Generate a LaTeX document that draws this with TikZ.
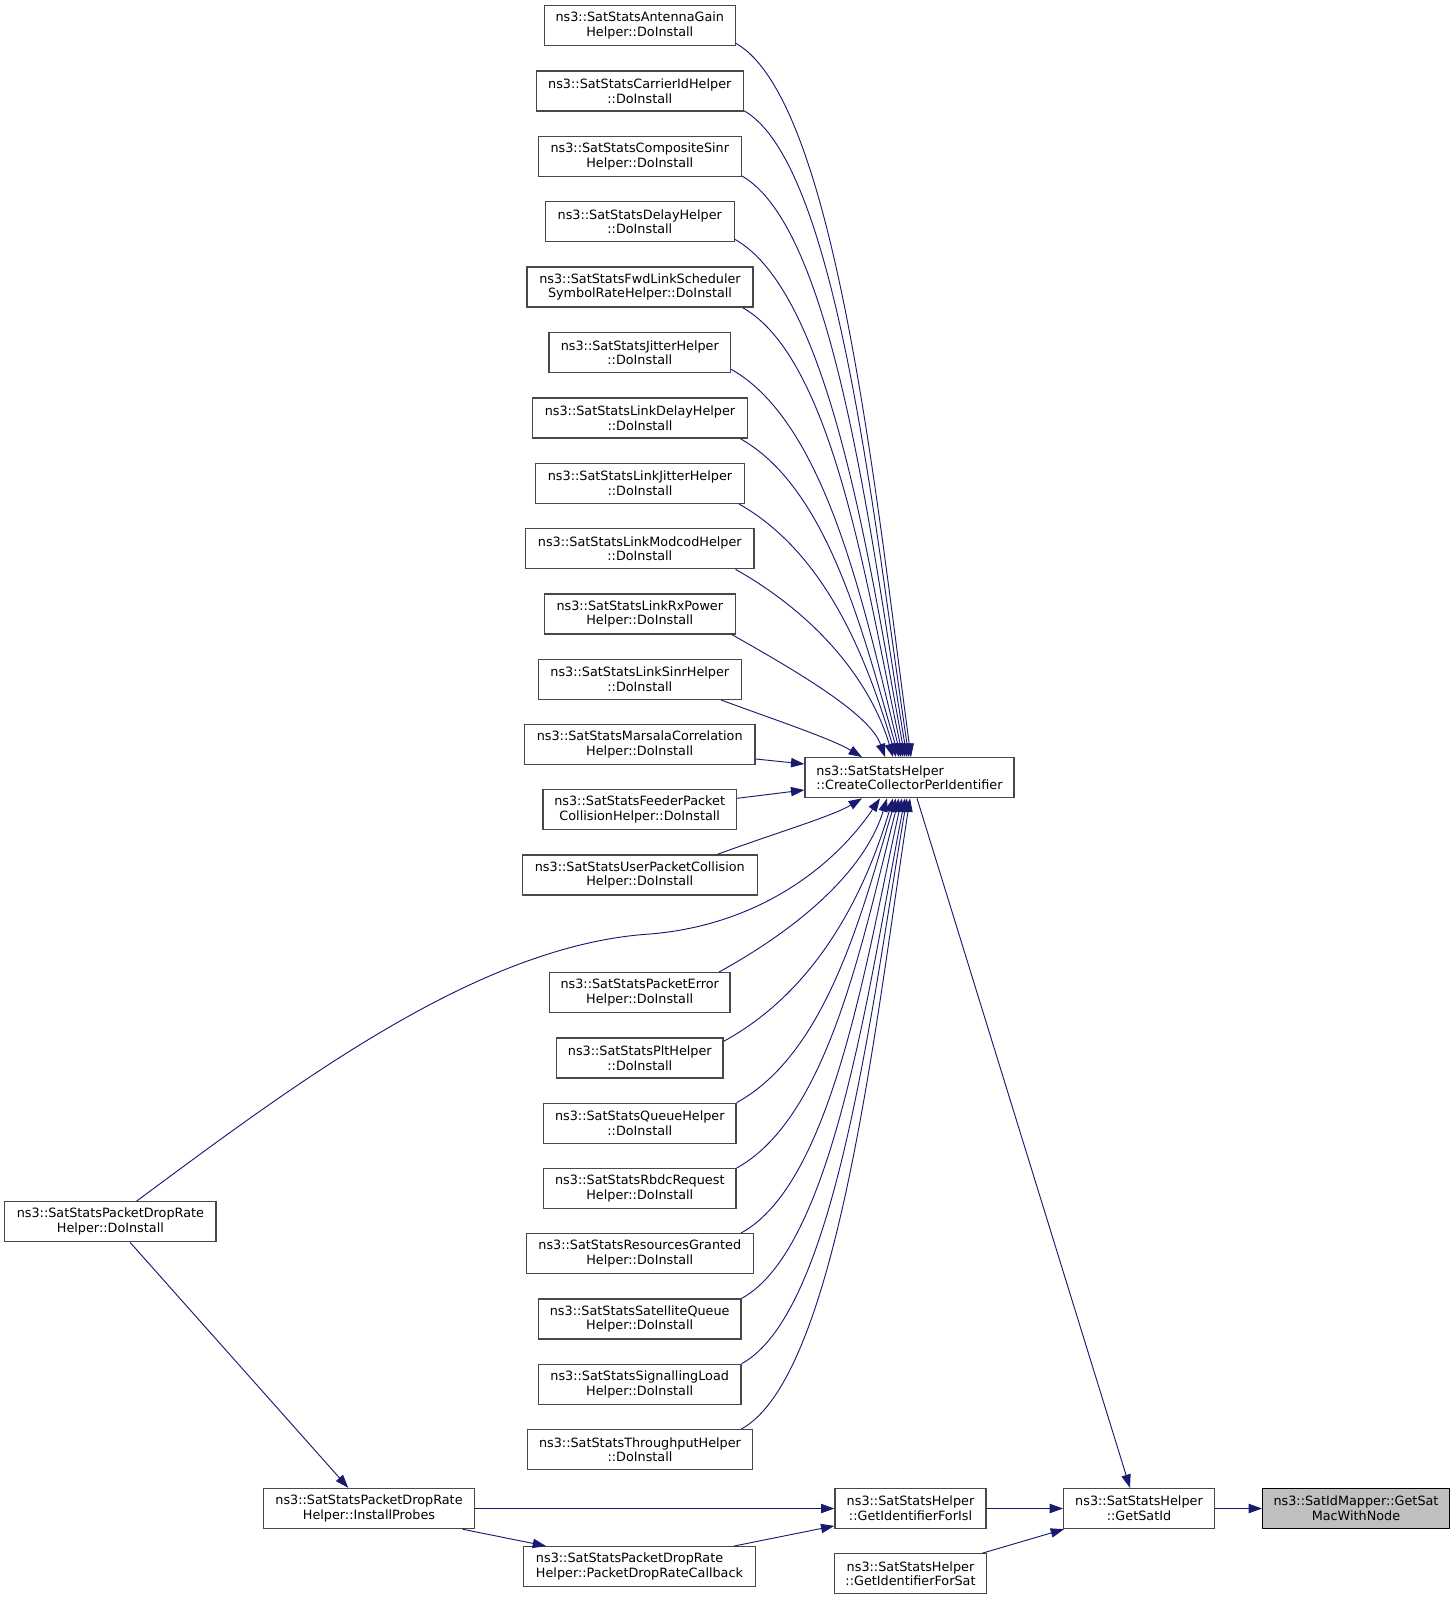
\documentclass[tikz,border=0pt]{standalone}
\usepackage{fontspec}
\setmainfont{DejaVu Sans}
\usetikzlibrary{arrows.meta,calc}
\definecolor{edgec}{HTML}{191970}
\definecolor{bordc}{HTML}{484848}
\definecolor{rootc}{HTML}{BFBFBF}
\begin{document}
\begin{tikzpicture}[x=0.75pt,y=-0.75pt,
  box/.style={draw=bordc, line width=1pt, fill=white, rectangle, inner sep=0pt,
    minimum height=30pt, align=center, font=\fontsize{9.6}{11}\selectfont},
  lbox/.style={box, align=left},
  bw/.style={minimum width=#1*0.75pt},
  root/.style={box, draw=black, fill=rootc},
  cn/.style={draw=edgec, line width=0.7pt, -{Triangle[length=10pt,width=7pt]}}]
\useasboundingbox (0,0) rectangle (1455,1600);

% left column
\node[box,bw=191]   (ant) at (639.8,25.7)  {ns3::SatStatsAntennaGain\\Helper::DoInstall};
\node[box,bw=207]   (car) at (639.8,91)    {ns3::SatStatsCarrierIdHelper\\::DoInstall};
\node[box,bw=203]   (com) at (639.8,156.3) {ns3::SatStatsCompositeSinr\\Helper::DoInstall};
\node[box,bw=189]   (del) at (639.8,221.7) {ns3::SatStatsDelayHelper\\::DoInstall};
\node[box,bw=226]   (fwd) at (640,287)     {ns3::SatStatsFwdLinkScheduler\\SymbolRateHelper::DoInstall};
\node[box,bw=181.7] (jit) at (639.8,352.7) {ns3::SatStatsJitterHelper\\::DoInstall};
\node[box,bw=215.4] (ldl) at (640,418)     {ns3::SatStatsLinkDelayHelper\\::DoInstall};
\node[box,bw=208.6] (ljt) at (640,483.3)   {ns3::SatStatsLinkJitterHelper\\::DoInstall};
\node[box,bw=228.3] (lmc) at (639.8,548.7) {ns3::SatStatsLinkModcodHelper\\::DoInstall};
\node[box,bw=191]   (lrx) at (639.8,614)   {ns3::SatStatsLinkRxPower\\Helper::DoInstall};
\node[box,bw=203]   (lsn) at (639.8,679.3) {ns3::SatStatsLinkSinrHelper\\::DoInstall};
\node[box,bw=230.7] (mar) at (639.7,744.3) {ns3::SatStatsMarsalaCorrelation\\Helper::DoInstall};
\node[box,bw=193.3] (fee) at (639.7,809.7) {ns3::SatStatsFeederPacket\\CollisionHelper::DoInstall};
\node[box,bw=235]   (usr) at (639.8,875)   {ns3::SatStatsUserPacketCollision\\Helper::DoInstall};
\node[box,bw=180.7] (per) at (639.7,992.7) {ns3::SatStatsPacketError\\Helper::DoInstall};
\node[box,bw=166.3] (plt) at (639.8,1058)  {ns3::SatStatsPltHelper\\::DoInstall};
\node[box,bw=192.3] (que) at (639.8,1123.3) {ns3::SatStatsQueueHelper\\::DoInstall};
\node[box,bw=192.3] (rbd) at (639.8,1188.7) {ns3::SatStatsRbdcRequest\\Helper::DoInstall};
\node[box,bw=227]   (res) at (639.8,1253.7) {ns3::SatStatsResourcesGranted\\Helper::DoInstall};
\node[box,bw=202.7] (saq) at (639.7,1319)  {ns3::SatStatsSatelliteQueue\\Helper::DoInstall};
\node[box,bw=202.7] (sig) at (639.7,1384.3) {ns3::SatStatsSignallingLoad\\Helper::DoInstall};
\node[box,bw=224.6] (thr) at (640,1449.7)  {ns3::SatStatsThroughputHelper\\::DoInstall};
\node[lbox,bw=232.4] (cbk) at (639.5,1566.7) {ns3::SatStatsPacketDropRate\\Helper::PacketDropRateCallback};

% other nodes
\node[lbox,bw=209]  (cc)  at (909.5,777.7) {ns3::SatStatsHelper\\::CreateCollectorPerIdentifier};
\node[box,bw=211.3] (pdi) at (110.4,1221.7) {ns3::SatStatsPacketDropRate\\Helper::DoInstall};
\node[box,bw=210.6] (ipr) at (369,1508.5)  {ns3::SatStatsPacketDropRate\\Helper::InstallProbes};
\node[box,bw=151]   (isl) at (910.5,1508.5) {ns3::SatStatsHelper\\::GetIdentifierForIsl};
\node[box,bw=152.4] (fsa) at (910.5,1573.8) {ns3::SatStatsHelper\\::GetIdentifierForSat};
\node[box,bw=150.6] (gsi) at (1139,1508.5) {ns3::SatStatsHelper\\::GetSatId};
\node[root,bw=186.6] (mac) at (1356,1508.5) {ns3::SatIdMapper::GetSat\\MacWithNode};

% upper callers -> CreateCollectorPerIdentifier (top)
\draw[cn] ($(ant.south east)+(0,-3)$) .. controls +(100,57) and +(-35,-260) .. ($(cc.north)+(1.5,0)$);
\draw[cn] ($(car.south east)+(0,-1)$) .. controls +(94,54) and +(-35,-233) .. ($(cc.north)+(-0.5,0)$);
\draw[cn] ($(com.south east)+(0,-1)$) .. controls +(94,54) and +(-35,-209) .. ($(cc.north)+(-2.5,0)$);
\draw[cn] ($(del.south east)+(0,-3)$) .. controls +(97,55) and +(-35,-187) .. ($(cc.north)+(-4.5,0)$);
\draw[cn] ($(fwd.south east)+(-11,0)$) .. controls +(92,52) and +(-35,-162) .. ($(cc.north)+(-6.5,0)$);
\draw[cn] ($(jit.south east)+(0,-4)$) .. controls +(97,55) and +(-35,-140) .. ($(cc.north)+(-8.5,0)$);
\draw[cn] ($(ldl.south east)+(-8,0)$) .. controls +(90,51) and +(-34,-115) .. ($(cc.north)+(-10.5,0)$);
\draw[cn] ($(ljt.south east)+(-6,0)$) .. controls +(90,51) and +(-27,-91) .. ($(cc.north)+(-13.5,0)$);
\draw[cn] ($(lmc.south east)+(-19,0)$) .. controls +(90,51) and +(-20,-68) .. ($(cc.north)+(-16.5,0)$);
\draw[cn] ($(lrx.south east)+(-4,0)$) .. controls +(80,45) and +(-14,-40) .. ($(cc.north)+(-24.5,0)$);
\draw[cn] ($(lsn.south east)+(-21,0)$) .. controls +(60,22) and +(-30,-18) .. ($(cc.north)+(-47.5,0)$);
\draw[cn] ($(mar.east)+(0,14.7)$) -- ($(cc.west)+(0,-13.7)$);
\draw[cn] ($(fee.east)+(0,-11.4)$) -- ($(cc.west)+(0,12.3)$);
\draw[cn] ($(usr.north east)+(-40.6,0)$) .. controls +(60,-22) and +(-30,18) .. ($(cc.south)+(-47.5,0)$);

% lower callers -> CreateCollectorPerIdentifier (bottom)
\draw[cn] ($(per.north east)+(-11.7,0)$) .. controls +(96,-53) and +(-19,63) .. ($(cc.south)+(-22.5,0)$);
\draw[cn] ($(plt.north east)+(0,4)$) .. controls +(97,-53) and +(-26,88) .. ($(cc.south)+(-16.5,0)$);
\draw[cn] (que.north east) .. controls +(91,-50) and +(-33,110) .. ($(cc.south)+(-13.5,0)$);
\draw[cn] (rbd.north east) .. controls +(93,-51) and +(-35,134) .. ($(cc.south)+(-10.5,0)$);
\draw[cn] ($(res.north east)+(-13,0)$) .. controls +(92,-50) and +(-35,157) .. ($(cc.south)+(-7.5,0)$);
\draw[cn] (saq.north east) .. controls +(93,-51) and +(-35,180) .. ($(cc.south)+(-4.5,0)$);
\draw[cn] (sig.north east) .. controls +(95,-52) and +(-35,204) .. ($(cc.south)+(-2.5,0)$);
\draw[cn] ($(thr.north east)+(-11.6,0)$) .. controls +(96,-53) and +(-35,228) .. ($(cc.south)+(0.5,0)$);

% PacketDropRate DoInstall -> CreateCollector
\draw[cn] ($(pdi.north)+(26.3,0)$) .. controls (300,1080) and (480,945) .. (650,934)
  .. controls (760,925) and (835,865) .. ($(cc.south)+(-29.5,0)$);

% CreateCollector -> GetSatId
\draw[cn] ($(cc.south)+(7.5,0)$) -- ($(gsi.north)+(-9,0)$);

% bottom row
\draw[cn] ($(pdi.south)+(19.7,0)$) -- ($(ipr.north)+(-20.7,0)$);
\draw[cn] (ipr.east) -- (isl.west);
\draw[cn] ($(ipr.south east)+(-12.6,0)$) -- ($(cbk.north west)+(23.4,0)$);
\draw[cn] ($(cbk.north east)+(-22.4,0)$) -- ($(isl.south west)+(0,-3.3)$);
\draw[cn] (isl.east) -- (gsi.west);
\draw[cn] ($(fsa.north east)+(-5,0)$) -- ($(gsi.south west)+(1,0)$);
\draw[cn] (gsi.east) -- (mac.west);
\end{tikzpicture}
\end{document}
